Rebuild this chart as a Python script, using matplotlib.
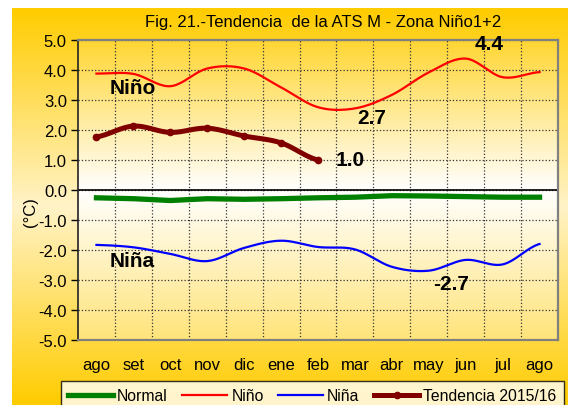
# -*- coding: utf-8 -*-
import numpy as np
import matplotlib
matplotlib.use("Agg")
import matplotlib.pyplot as plt
from matplotlib.colors import LinearSegmentedColormap

plt.rcParams['font.family'] = ['Liberation Sans', 'DejaVu Sans']
plt.rcParams['axes.unicode_minus'] = False

# data
meses = ['ago', 'set', 'oct', 'nov', 'dic', 'ene', 'feb', 'mar', 'abr', 'may', 'jun', 'jul', 'ago']
normal = [-0.26, -0.29, -0.35, -0.29, -0.31, -0.29, -0.26, -0.24, -0.19, -0.2, -0.22, -0.24, -0.24]
nino = [3.88, 3.87, 3.46, 4.05, 4.05, 3.42, 2.76, 2.72, 3.17, 3.92, 4.38, 3.76, 3.93]
nina = [-1.83, -1.91, -2.13, -2.37, -1.93, -1.69, -1.9, -1.98, -2.56, -2.69, -2.33, -2.48, -1.8]
tendencia = [1.77, 2.13, 1.92, 2.06, 1.8, 1.57, 1.0]


def suave(y, n=20):
    # catmull-rom, similar to the excel "smoothed line"
    y = np.asarray(y, dtype=float)
    p = np.concatenate([[y[0]], y, [y[-1]]])
    xs, ys = [], []
    for i in range(len(y) - 1):
        t = np.linspace(0, 1, n, endpoint=False)
        p0, p1, p2, p3 = p[i], p[i + 1], p[i + 2], p[i + 3]
        v = 0.5 * (2 * p1 + (-p0 + p2) * t + (2 * p0 - 5 * p1 + 4 * p2 - p3) * t ** 2
                   + (-p0 + 3 * p1 - 3 * p2 + p3) * t ** 3)
        xs.append(i + t)
        ys.append(v)
    xs.append([len(y) - 1])
    ys.append([y[-1]])
    return np.concatenate(xs), np.concatenate(ys)


W, H = 568, 406
fig = plt.figure(figsize=(W / 100, H / 100), dpi=100)
fig.patch.set_facecolor('white')

# outer yellow gradient
bg = fig.add_axes([12 / W, 0, 1 - 12 / W, 1 - 9 / H], zorder=-10)
cm_out = LinearSegmentedColormap.from_list('o', ['#FFCC00', '#FFF3C8', '#FFCC00'])
bg.imshow(np.linspace(0, 1, 256).reshape(-1, 1), aspect='auto', cmap=cm_out, extent=(0, 1, 1, 0))
bg.axis('off')

ax = fig.add_axes([78 / W, 1 - 341 / H, 480 / W, 300 / H])
x = np.arange(len(meses))

cm_in = LinearSegmentedColormap.from_list('i', [(0, '#FFD633'), (0.5, '#FFFFFF'), (1, '#FFE47A')])
ax.imshow(np.linspace(0, 1, 256).reshape(-1, 1), aspect='auto', cmap=cm_in,
          extent=(-0.5, 12.5, -5, 5), zorder=0)

# grid
ax.set_xlim(-0.5, 12.5)
ax.set_ylim(-5, 5)
ax.set_yticks(np.arange(-5, 5.1, 1))
ax.set_yticklabels(['%.1f' % v for v in np.arange(-5, 5.1, 1)])
ax.set_xticks(x)
ax.set_xticklabels(meses)
ax.set_xticks(np.arange(0.5, 12, 1), minor=True)
ax.grid(True, which='minor', axis='x', color='#333333', linestyle=':', linewidth=0.9, zorder=1)
ax.grid(True, which='major', axis='y', color='#333333', linestyle=':', linewidth=0.9, zorder=1)
ax.axhline(0, color='black', linewidth=1.2, zorder=2)
ax.tick_params(axis='x', which='both', length=0, pad=12, labelsize=12)
ax.tick_params(axis='y', length=5, width=1, pad=3, labelsize=12, direction='out')

for s in ['top', 'right', 'bottom']:
    ax.spines[s].set_color('#808080')
    ax.spines[s].set_linewidth(1.6)
ax.spines['left'].set_color('#222222')
ax.spines['left'].set_linewidth(1.2)

# series
ax.plot(x, normal, color='#008000', linewidth=3.8, label='Normal', zorder=3)
xs, ys = suave(nino)
ax.plot(xs, ys, color='#FF0000', linewidth=1.6, label='Niño', zorder=3)
xs, ys = suave(nina)
ax.plot(xs, ys, color='#0000FF', linewidth=1.6, label='Niña', zorder=3)
xt = np.arange(len(tendencia))
xs, ys = suave(tendencia)
ax.plot(xs, ys, color='#800000', linewidth=3.6, zorder=3)
ax.plot(xt, tendencia, 'o', color='#800000', markersize=4.5, zorder=4)
h_tend, = ax.plot([], [], color='#800000', linewidth=3.6, marker='o', markersize=4.5,
                  label='Tendencia 2015/16')

# text labels
kw = dict(fontsize=15, fontweight='bold', ha='center', va='center', zorder=5)
ax.text(0.98, 3.4, 'Niño', **kw)
ax.text(0.96, -2.35, 'Niña', **kw)
ax.text(7.46, 2.4, '2.7', **kw)
ax.text(10.63, 4.87, '4.4', **kw)
ax.text(6.87, 1.0, '1.0', **kw)
ax.text(9.6, -3.13, '-2.7', **kw)

fig.text(323 / W, 1 - 23 / H, 'Fig. 21.-Tendencia  de la ATS M - Zona Niño1+2',
         fontsize=12, ha='center', va='center')
fig.text(31 / W, 1 - 212 / H, '(°C)', fontsize=12, rotation=90, ha='center', va='center')

leg = fig.legend(loc='upper center', bbox_to_anchor=(312 / W, 1 - 382 / H), ncol=4,
                 fontsize=11.3, frameon=True, fancybox=False, edgecolor='black',
                 handlelength=2.9, handletextpad=0.25, columnspacing=0.9,
                 borderpad=0.45, borderaxespad=0, numpoints=1)
leg.get_frame().set_linewidth(1.0)
leg.get_frame().set_facecolor('white')

fig.savefig('out.png', dpi=100)
